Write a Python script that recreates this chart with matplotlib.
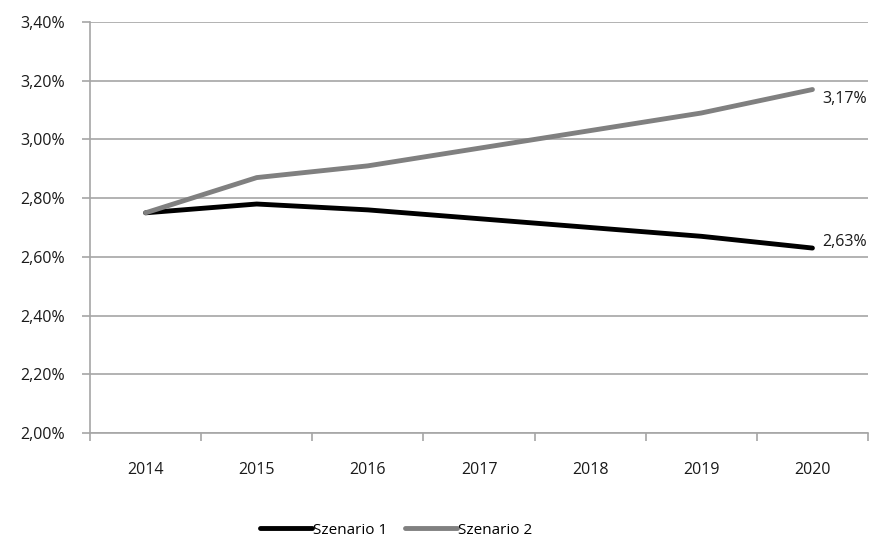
import matplotlib
matplotlib.use("Agg")
import matplotlib.pyplot as plt
import numpy as np

years = ["2014", "2015", "2016", "2017", "2018", "2019", "2020"]
szenario1 = [2.75, 2.78, 2.76, 2.73, 2.70, 2.67, 2.63]
szenario2 = [2.75, 2.87, 2.91, 2.97, 3.03, 3.09, 3.17]
yticks = [2.00, 2.20, 2.40, 2.60, 2.80, 3.00, 3.20, 3.40]

plt.rcParams['font.family'] = ['Open Sans', 'DejaVu Sans']

fig = plt.figure(figsize=(8.82, 5.43), dpi=100)
ax = fig.add_axes([90/882, 1-433/543, 778/882, (433-22)/543])

x = np.arange(len(years))
grid_c = "#a6a6a6"
txt_c = "#1a1a1a"
l1, = ax.plot(x, szenario1, color="black", lw=3.5, solid_capstyle="round", label="Szenario 1")
l2, = ax.plot(x, szenario2, color="#808080", lw=3.5, solid_capstyle="round", label="Szenario 2")

def fmt(v):
    return f"{v:.2f}".replace(".", ",") + "%"

ax.annotate(fmt(szenario1[-1]), (x[-1], szenario1[-1]), xytext=(7, 4),
            textcoords="offset points", fontsize=11.5, color=txt_c, va="center", ha="left")
ax.annotate(fmt(szenario2[-1]), (x[-1], szenario2[-1]), xytext=(7, -7),
            textcoords="offset points", fontsize=11.5, color=txt_c, va="center", ha="left")

ax.set_xlim(-0.5, len(years)-0.5)
ax.set_ylim(2.0, 3.4)
ax.set_yticks(yticks)
ax.set_yticklabels([fmt(v) for v in yticks])
ax.yaxis.grid(True, color=grid_c, lw=1.2)
ax.set_axisbelow(True)

ax.set_xticks(x)
ax.set_xticklabels(years)
ax.set_xticks(np.arange(-0.5, len(years)), minor=True)
ax.tick_params(axis="x", which="major", length=0, pad=21, labelsize=11.5, labelcolor=txt_c)
ax.tick_params(axis="x", which="minor", length=6, color=grid_c, width=1.2, direction="out")
ax.tick_params(axis="y", length=6, color=grid_c, width=1.2, pad=12, labelsize=11.5, labelcolor=txt_c)

for s in ["top", "right"]:
    ax.spines[s].set_visible(False)
for s in ["left", "bottom"]:
    ax.spines[s].set_color(grid_c)
    ax.spines[s].set_linewidth(1.2)

fig.legend(handles=[l1, l2], loc="center", bbox_to_anchor=(396/882, 1-530/543),
           ncol=2, frameon=False, fontsize=11, handlelength=3.4, handletextpad=0.05,
           columnspacing=1.2)

fig.savefig("out.png", dpi=100)
